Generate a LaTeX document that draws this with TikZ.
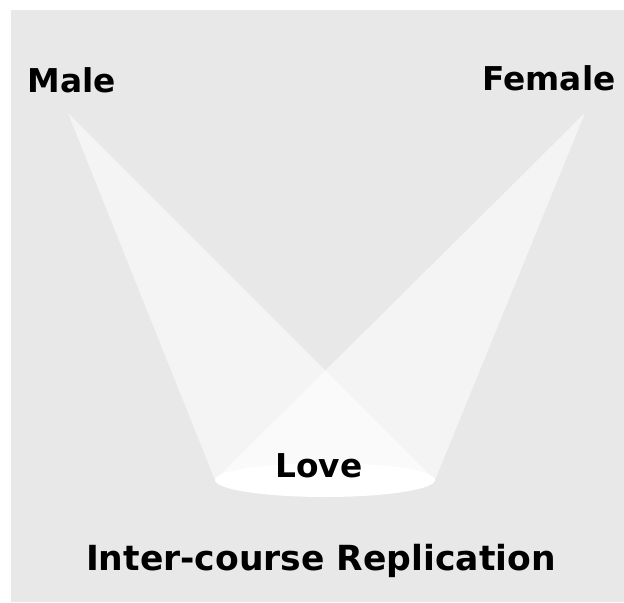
\documentclass[tikz,border=0pt]{standalone}
\usepackage{fontspec}
\setmainfont{DejaVu Sans}
\usepackage{tikz}
\usetikzlibrary{positioning}

\definecolor{stage}{RGB}{232,232,232}
\tikzset{
    beam/.style={fill=white, fill opacity=0.55, draw=none},
    spot/.style={fill=white, draw=none},
    word/.style={font=\bfseries\fontsize{28}{30}\selectfont, inner sep=0pt, anchor=base}
}

\begin{document}
\begin{tikzpicture}[x=0.03cm, y=-0.03cm]

    % Sfondo grigio e riquadro complessivo
    \fill[white] (0,0) rectangle (624,602);
    \useasboundingbox (0,0) rectangle (624,602);
    \fill[stage] (11,10) rectangle (624,602);

    % Sorgenti dei fasci e bordi della macchia di luce
    \coordinate (maleapex) at (68,113);
    \coordinate (femaleapex) at (585,113);
    \coordinate (spotL) at (215,480);
    \coordinate (spotR) at (435,480);

    % Fasci di luce (la sovrapposizione risulta piu chiara)
    \fill[beam] (maleapex) -- (spotL) -- (spotR) -- cycle;
    \fill[beam] (femaleapex) -- (spotL) -- (spotR) -- cycle;

    % Macchia di luce in basso
    \fill[spot] (325,480) ellipse [x radius=110, y radius=17];

    % Etichette
    \node[word] (male) at (72,92) {Male};
    \node[word] (female) at (549,90) {Female};
    \node[word] (love) at (319,477) {Love};
    \node[word, font=\bfseries\fontsize{29.5}{31}\selectfont] (caption) at (321,570) {Inter-course Replication};

\end{tikzpicture}
\end{document}
